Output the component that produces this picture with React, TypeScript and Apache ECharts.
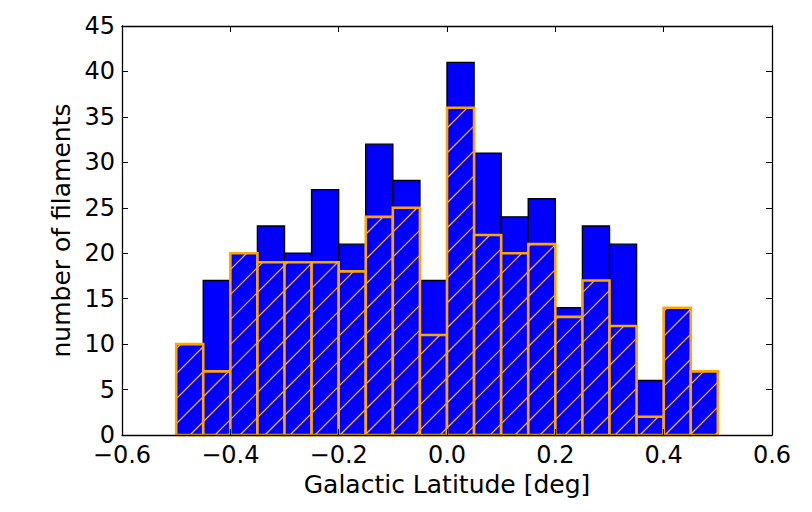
import React, { useEffect, useRef } from "react";
import * as echarts from "echarts";

const binStarts = [-0.5, -0.45, -0.4, -0.35, -0.3, -0.25, -0.2, -0.15, -0.1, -0.05, 0.0, 0.05, 0.1, 0.15, 0.2, 0.25, 0.3, 0.35, 0.4, 0.45];
const binWidth = 0.05;
const allCounts = [10, 17, 20, 23, 20, 27, 21, 32, 28, 17, 41, 31, 24, 26, 14, 23, 21, 6, 14, 7];
const subsetCounts = [10, 7, 20, 19, 19, 19, 18, 24, 25, 11, 36, 22, 20, 21, 13, 17, 12, 2, 14, 7];
const xTicks = [-0.6, -0.4, -0.2, 0.0, 0.2, 0.4, 0.6];
const yTicks = [0, 5, 10, 15, 20, 25, 30, 35, 40, 45];

const FONT = "DejaVu Sans";
const BLUE = "#0000ff";
const ORANGE = "#ffa500";

const fmtX = (v: number) => v.toFixed(1).replace("-", "\u2212");

export default function App() {
  const ref = useRef<HTMLDivElement>(null);
  useEffect(() => {
    if (!ref.current) return;
    const chart = echarts.init(ref.current, null, { renderer: "svg" });

    const blueData = binStarts.map((s, i) => [s, s + binWidth, allCounts[i]]);
    const orangeData = binStarts.map((s, i) => [s, s + binWidth, subsetCounts[i]]);

    const renderBlue = (params: any, api: any) => {
      const p0 = api.coord([api.value(0), 0]);
      const p1 = api.coord([api.value(1), api.value(2)]);
      return {
        type: "rect",
        shape: { x: p0[0], y: p1[1], width: p1[0] - p0[0], height: p0[1] - p1[1] },
        style: { fill: BLUE, stroke: "#000000", lineWidth: 1.4 },
      };
    };

    const hatch = 25;
    const renderOrange = (params: any, api: any) => {
      const p0 = api.coord([api.value(0), 0]);
      const p1 = api.coord([api.value(1), api.value(2)]);
      const x0 = p0[0], x1 = p1[0], yTop = p1[1], yBot = p0[1];
      const children: any[] = [
        {
          type: "rect",
          shape: { x: x0, y: yTop, width: x1 - x0, height: yBot - yTop },
          style: { fill: BLUE, stroke: null },
        },
      ];
      const cMin = x0 + yTop, cMax = x1 + yBot;
      for (let k = Math.ceil(cMin / hatch); k * hatch <= cMax; k++) {
        const c = k * hatch;
        const xa = Math.max(x0, c - yBot);
        const xb = Math.min(x1, c - yTop);
        if (xb - xa <= 0.5) continue;
        children.push({
          type: "line",
          shape: { x1: xa, y1: c - xa, x2: xb, y2: c - xb },
          style: { stroke: "#ffb84d", lineWidth: 1.2 },
        });
      }
      children.push({
        type: "rect",
        shape: { x: x0, y: yTop, width: x1 - x0, height: yBot - yTop },
        style: { fill: "none", stroke: ORANGE, lineWidth: 2.6 },
      });
      return { type: "group", children };
    };

    const tickStyle = { show: true, inside: true, length: 6, lineStyle: { color: "#000", width: 1 } };
    const lineStyle = { show: true, lineStyle: { color: "#000", width: 1.3 } };

    chart.setOption({
      animation: false,
      grid: { left: 122, right: 40, top: 26, bottom: 77, containLabel: false },
      xAxis: [
        {
          type: "value",
          position: "bottom",
          min: -0.6,
          max: 0.6,
          interval: 0.2,
          axisLine: { ...lineStyle, onZero: false },
          axisTick: tickStyle,
          splitLine: { show: false },
          axisLabel: {
            fontFamily: FONT,
            fontSize: 24,
            color: "#000",
            margin: 8,
            formatter: (v: number) => fmtX(v),
            customValues: xTicks,
          },
          name: "Galactic Latitude [deg]",
          nameLocation: "middle",
          nameGap: 33,
          nameTextStyle: { fontFamily: FONT, fontSize: 25, color: "#000" },
          z: 10,
        },
        {
          type: "value",
          position: "top",
          min: -0.6,
          max: 0.6,
          interval: 0.2,
          axisLine: { ...lineStyle, onZero: false },
          axisTick: tickStyle,
          splitLine: { show: false },
          axisLabel: { show: false },
        },
      ],
      yAxis: [
        {
          type: "value",
          position: "left",
          min: 0,
          max: 45,
          interval: 5,
          axisLine: { ...lineStyle, onZero: false },
          axisTick: tickStyle,
          splitLine: { show: false },
          axisLabel: {
            fontFamily: FONT,
            fontSize: 24,
            color: "#000",
            margin: 7,
            customValues: yTicks,
          },
          name: "number of filaments",
          nameLocation: "middle",
          nameGap: 42,
          nameTextStyle: { fontFamily: FONT, fontSize: 25, color: "#000" },
          z: 10,
        },
        {
          type: "value",
          position: "right",
          min: 0,
          max: 45,
          interval: 5,
          axisLine: { ...lineStyle, onZero: false },
          axisTick: tickStyle,
          splitLine: { show: false },
          axisLabel: { show: false },
        },
      ],
      series: [
        {
          type: "custom",
          renderItem: renderBlue,
          data: blueData,
          xAxisIndex: 0,
          yAxisIndex: 0,
          encode: { x: [0, 1], y: 2 },
          z: 2,
        },
        {
          type: "custom",
          renderItem: renderOrange,
          data: orangeData,
          xAxisIndex: 0,
          yAxisIndex: 0,
          encode: { x: [0, 1], y: 2 },
          z: 3,
        },
      ],
    });
    return () => chart.dispose();
  }, []);

  return (
    <div
      ref={ref}
      style={{ position: "fixed", left: 0, top: 0, width: 812, height: 512, background: "#fff" }}
    />
  );
}
